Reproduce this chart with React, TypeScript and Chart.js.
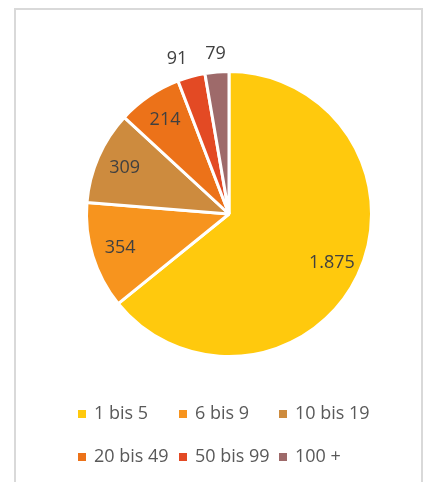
import React, { useEffect, useRef } from "react";
import { Chart, registerables } from "chart.js";

Chart.register(...registerables);

const categories = ["1 bis 5", "6 bis 9", "10 bis 19", "20 bis 49", "50 bis 99", "100 +"];
const values = [1875, 354, 309, 214, 91, 79];
const valueLabels = ["1.875", "354", "309", "214", "91", "79"];
const colors = ["#FFC90D", "#F7941E", "#CD8B3E", "#EC7219", "#E34A24", "#9E6A6A"];

const FONT = "'Open Sans', sans-serif";
const TEXT_COLOR = "#595959";

const labelPlugin = {
  id: "sliceLabels",
  afterDatasetsDraw(chart: any) {
    const ctx = chart.ctx;
    const meta = chart.getDatasetMeta(0);
    const total = values.reduce((a, b) => a + b, 0);
    ctx.save();
    ctx.font = `18px ${FONT}`;
    ctx.fillStyle = "#404040";
    ctx.textAlign = "center";
    ctx.textBaseline = "middle";
    const outside: any[] = [];
    meta.data.forEach((arc: any, i: number) => {
      const p = arc.getProps(["x", "y", "startAngle", "endAngle", "outerRadius"], true);
      const mid = (p.startAngle + p.endAngle) / 2;
      const frac = values[i] / total;
      const text = valueLabels[i];
      const w = ctx.measureText(text).width;
      if (frac > 0.05) {
        const r = p.outerRadius * 0.8;
        ctx.fillText(text, p.x + Math.cos(mid) * r, p.y + Math.sin(mid) * r);
      } else {
        const r = p.outerRadius + 6;
        const ux = Math.cos(mid);
        const uy = Math.sin(mid);
        outside.push({
          text,
          w,
          x: p.x + ux * r + ux * (w / 2),
          y: p.y + uy * r + uy * 12,
        });
      }
    });
    outside.sort((a, b) => a.x - b.x);
    for (let k = outside.length - 2; k >= 0; k--) {
      const a = outside[k];
      const b = outside[k + 1];
      const gap = b.x - b.w / 2 - (a.x + a.w / 2);
      if (gap < 18) a.x -= 18 - gap;
    }
    outside.forEach((o) => ctx.fillText(o.text, o.x, o.y));
    ctx.restore();
  },
};

const legendPlugin = {
  id: "gridLegend",
  afterDraw(chart: any) {
    const ctx = chart.ctx;
    const ds = chart.data.datasets[0];
    const labels = chart.data.labels as string[];
    const colX = [78, 179, 279];
    const rowY = [414, 457];
    ctx.save();
    ctx.font = `18px ${FONT}`;
    ctx.textAlign = "left";
    ctx.textBaseline = "middle";
    labels.forEach((lab, i) => {
      const c = i % 3;
      const r = Math.floor(i / 3);
      const x = colX[c];
      const y = rowY[r];
      ctx.fillStyle = ds.backgroundColor[i];
      ctx.fillRect(x, y - 4, 8, 8);
      ctx.fillStyle = TEXT_COLOR;
      ctx.fillText(lab, x + 16, y);
    });
    ctx.restore();
  },
};

export default function App() {
  const ref = useRef<HTMLCanvasElement | null>(null);
  useEffect(() => {
    if (!ref.current) return;
    const chart = new Chart(ref.current, {
      type: "pie",
      data: {
        labels: categories,
        datasets: [
          {
            data: values,
            backgroundColor: colors,
            borderColor: "#ffffff",
            borderWidth: 3,
          },
        ],
      },
      options: {
        responsive: false,
        animation: false,
        layout: { padding: { left: 84, right: 51, top: 70, bottom: 124 } },
        plugins: {
          legend: { display: false },
          tooltip: { enabled: false },
        },
      },
      plugins: [labelPlugin, legendPlugin],
    });
    return () => chart.destroy();
  }, []);
  return (
    <div style={{ position: "fixed", left: 0, top: 0, width: 425, height: 482, background: "#fff" }}>
      <div
        style={{
          position: "absolute",
          left: 14,
          top: 8,
          width: 405,
          height: 490,
          border: "2px solid #d9d9d9",
        }}
      />
      <canvas ref={ref} width={425} height={482} style={{ position: "absolute", left: 0, top: 0 }} />
    </div>
  );
}
